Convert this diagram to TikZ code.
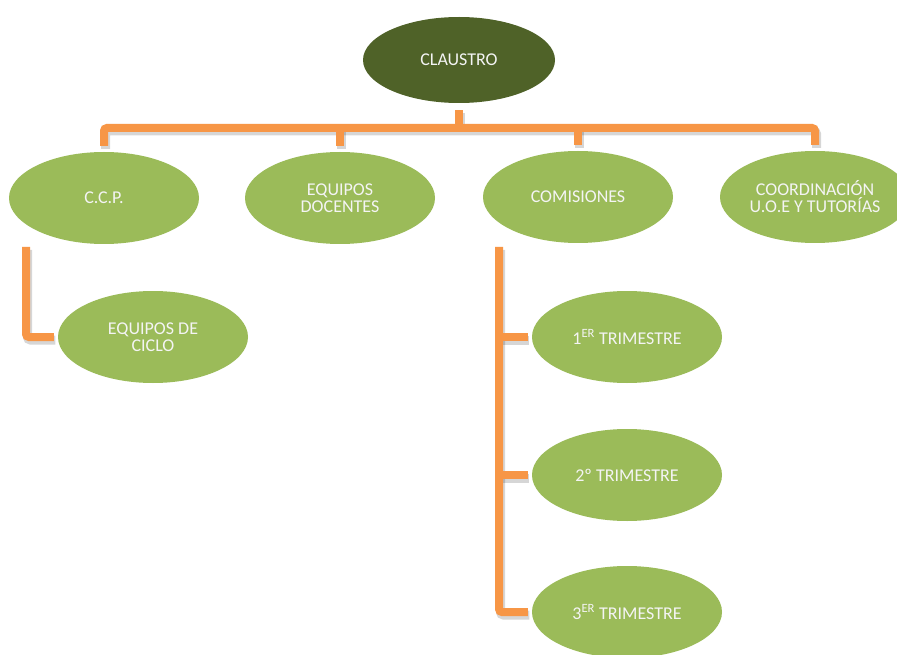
\documentclass[tikz,border=0pt]{standalone}
\usepackage{fontspec}
\setmainfont{Carlito}
\usetikzlibrary{calc,shapes.geometric}
\definecolor{connorange}{HTML}{F79646}
\definecolor{leafgreen}{HTML}{9BBB59}
\definecolor{rootgreen}{HTML}{4F6228}
\definecolor{labelwhite}{HTML}{F4F4F4}
\tikzset{
  unit/.style={ellipse, minimum width=190pt, minimum height=92pt, inner sep=0pt,
    fill=leafgreen, text=labelwhite, align=center,
    font=\fontsize{18}{17}\selectfont},
  rootunit/.style={unit, fill=rootgreen, minimum width=192pt, minimum height=86pt},
  conn/.style={draw=connorange, line width=8pt, rounded corners=3pt},
  connshade/.style={draw=black, opacity=0.16, line width=9pt, rounded corners=3pt},
}
\begin{document}
\begin{tikzpicture}[x=1pt, y=-1pt]
  \useasboundingbox (0,0) rectangle (897,655);
  \clip (0,0) rectangle (897,655);
  \fill[white] (0,0) rectangle (897,655);

  % organisational units
  \node[rootunit] (claustro) at (459,60) {CLAUSTRO};
  \node[unit] (ccp)   at (104,198) {C.C.P.};
  \node[unit] (equ)   at (340,198) {EQUIPOS\\DOCENTES};
  \node[unit] (com)   at (578,197) {COMISIONES};
  \node[unit] (coord) at (815,197) {COORDINACIÓN\\U.O.E Y TUTORÍAS};
  \node[unit] (ciclo) at (153,337) {EQUIPOS DE\\CICLO};
  \node[unit] (t1) at (627,337) {1\textsuperscript{ER} TRIMESTRE};
  \node[unit] (t2) at (627,475) {2º TRIMESTRE};
  \node[unit] (t3) at (627,612) {3\textsuperscript{ER} TRIMESTRE};

  % junction points of the connector rails
  \coordinate (bar) at (459,128);
  \coordinate (lrail) at (26,247);
  \coordinate (rrail) at (499,247);

  % soft shadow under the connectors
  \begin{scope}[transform canvas={shift={(1.5pt,-3pt)}}]
    \draw[connshade] ($(claustro.south)+(0,7)$) -- (bar);
    \draw[connshade] ($(ccp.north)+(0,-6)$) |- (bar) -| ($(coord.north)+(0,-6)$);
    \draw[connshade] ($(equ.north)+(0,-6)$) -- (equ.north |- bar);
    \draw[connshade] ($(com.north)+(0,-6)$) -- (com.north |- bar);
    \draw[connshade] (lrail) |- ($(ciclo.west)+(-4,0)$);
    \draw[connshade] (rrail) |- ($(t3.west)+(-4,0)$);
    \draw[connshade] (rrail |- t1.west) -- ($(t1.west)+(-4,0)$);
    \draw[connshade] (rrail |- t2.west) -- ($(t2.west)+(-4,0)$);
  \end{scope}

  % connectors
  \draw[conn] ($(claustro.south)+(0,7)$) -- (bar);
  \draw[conn] ($(ccp.north)+(0,-6)$) |- (bar) -| ($(coord.north)+(0,-6)$);
  \draw[conn] ($(equ.north)+(0,-6)$) -- (equ.north |- bar);
  \draw[conn] ($(com.north)+(0,-6)$) -- (com.north |- bar);
  \draw[conn] (lrail) |- ($(ciclo.west)+(-4,0)$);
  \draw[conn] (rrail) |- ($(t3.west)+(-4,0)$);
  \draw[conn] (rrail |- t1.west) -- ($(t1.west)+(-4,0)$);
  \draw[conn] (rrail |- t2.west) -- ($(t2.west)+(-4,0)$);
\end{tikzpicture}
\end{document}
